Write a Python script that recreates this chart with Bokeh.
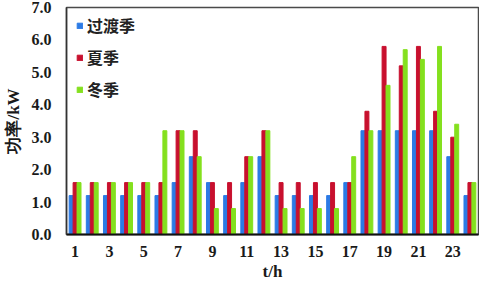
from bokeh.plotting import figure
from bokeh.models import ColumnDataSource, Range1d, FixedTicker, Legend, LegendItem, PrintfTickFormatter
from bokeh.transform import dodge
from bokeh.embed import file_html
from bokeh.resources import INLINE

hours = list(range(1, 25))
transition = [1.2, 1.2, 1.2, 1.2, 1.2, 1.2, 1.6, 2.4, 1.6, 1.2, 1.6, 2.4,
              1.2, 1.2, 1.2, 1.2, 1.6, 3.2, 3.2, 3.2, 3.2, 3.2, 2.4, 1.2]
summer = [1.6, 1.6, 1.6, 1.6, 1.6, 1.6, 3.2, 3.2, 1.6, 1.6, 2.4, 3.2,
          1.6, 1.6, 1.6, 1.6, 1.6, 3.8, 5.8, 5.2, 5.8, 3.8, 3.0, 1.6]
winter = [1.6, 1.6, 1.6, 1.6, 1.6, 3.2, 3.2, 2.4, 0.8, 0.8, 2.4, 3.2,
          0.8, 0.8, 0.8, 0.8, 2.4, 3.2, 4.6, 5.7, 5.4, 5.8, 3.4, 1.6]
series_names = ["过渡季", "夏季", "冬季"]
x_ticks = [1, 3, 5, 7, 9, 11, 13, 15, 17, 19, 21, 23]
y_ticks = [0, 1, 2, 3, 4, 5, 6, 7]

colors = ["#2c7be5", "#c8102e", "#84e01e"]

src = ColumnDataSource(dict(h=hours, a=transition, b=summer, c=winter))

p = figure(width=479, height=283, output_backend="svg", toolbar_location=None,
           x_range=Range1d(0.5, 24.5), y_range=Range1d(0, 7),
           min_border_left=59, min_border_right=1, min_border_top=7, min_border_bottom=48)
p.background_fill_color = "white"
p.border_fill_color = "white"
p.outline_line_color = "#4a4a4a"
p.outline_line_width = 1.5
p.xgrid.visible = False
p.ygrid.visible = False

w = 0.23
r1 = p.vbar(x=dodge("h", -w, range=p.x_range), top="a", width=w, source=src, color=colors[0])
r2 = p.vbar(x=dodge("h", 0, range=p.x_range), top="b", width=w, source=src, color=colors[1])
r3 = p.vbar(x=dodge("h", w, range=p.x_range), top="c", width=w, source=src, color=colors[2])

legend = Legend(items=[LegendItem(label=series_names[0], renderers=[r1]),
                       LegendItem(label=series_names[1], renderers=[r2]),
                       LegendItem(label=series_names[2], renderers=[r3])],
                location=(10, 133), padding=0, margin=0, spacing=8,
                glyph_width=7, glyph_height=7, label_height=19, label_standoff=4,
                border_line_color=None, background_fill_alpha=0)
legend.label_text_font = "Noto Sans CJK SC"
legend.label_text_font_size = "16px"
legend.label_text_font_style = "bold"
legend.label_text_color = "#222222"
p.add_layout(legend)

for ax in (p.xaxis[0], p.yaxis[0]):
    ax.major_tick_line_color = None
    ax.minor_tick_line_color = None
    ax.major_label_text_font = "Liberation Serif"
    ax.major_label_text_font_size = "16px"
    ax.major_label_text_font_style = "bold"
    ax.major_label_text_color = "#1a1a1a"
    ax.axis_label_text_font = "Liberation Serif"
    ax.axis_label_text_font_size = "17px"
    ax.axis_label_text_font_style = "bold"
    ax.axis_label_text_color = "#1a1a1a"

p.xaxis.ticker = FixedTicker(ticks=x_ticks)
p.yaxis.ticker = FixedTicker(ticks=y_ticks)
p.yaxis.formatter = PrintfTickFormatter(format="%.1f")
p.xaxis.axis_label = "t/h"
p.yaxis.axis_label = "功率/kW"
p.xaxis.axis_line_color = "#111111"
p.xaxis.axis_line_width = 2
p.yaxis.axis_line_color = "#333333"
p.yaxis.axis_line_width = 1.5
p.xaxis.major_label_standoff = 5
p.yaxis.major_label_standoff = 9
p.xaxis.axis_label_standoff = 2
p.yaxis.axis_label_standoff = 6

open("out.html", "w").write(file_html(p, INLINE))
